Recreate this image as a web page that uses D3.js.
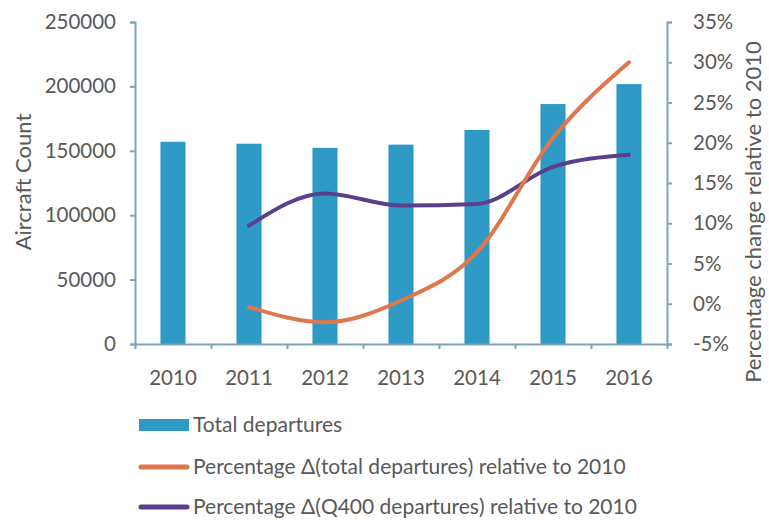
<!DOCTYPE html>
<html><head><meta charset="utf-8">
<script src="https://cdn.jsdelivr.net/npm/d3@7"></script>
<style>body{margin:0;background:#fff}svg{display:block}text{font-family:Lato,"Open Sans",sans-serif;fill:#595959}</style>
</head><body><svg id="c" width="769" height="520"></svg>
<script>
const years = ["2010","2011","2012","2013","2014","2015","2016"];
const totalDepartures = [157000, 155500, 152300, 154800, 166200, 186300, 201800];
const pctTotal = [null, -0.4, -2.3, 0.4, 6.4, 20.6, 30.0];
const pctQ400 = [null, 9.7, 13.7, 12.2, 12.4, 17.0, 18.5];
const leftTicks = [0, 50000, 100000, 150000, 200000, 250000];
const rightTicks = [-5, 0, 5, 10, 15, 20, 25, 30, 35];
const legendLabels = ["Total departures", "Percentage \u0394(total departures) relative to 2010", "Percentage \u0394(Q400 departures) relative to 2010"];

const colBar = "#2f9ac6", colOrange = "#e0774c", colPurple = "#5a3f8c", colAxis = "#7aa8b8";
const svg = d3.select("#c");
const L = 135, R = 667, T = 22, B = 344;

const x = d3.scaleBand().domain(years).range([L, R]).paddingInner(0.67).paddingOuter(0.335);
const xc = d3.scalePoint().domain(years).range([L, R]).padding(0.5);
const yL = d3.scaleLinear().domain([0, 250000]).range([B, T]);
const yR = d3.scaleLinear().domain([-5, 35]).range([B, T]);

// bars
svg.append("g").selectAll("rect").data(years).join("rect")
  .attr("x", d => x(d)).attr("width", x.bandwidth())
  .attr("y", (d,i) => yL(totalDepartures[i])).attr("height", (d,i) => B - yL(totalDepartures[i]))
  .attr("fill", colBar);

// axes
const axL = svg.append("g").attr("transform", `translate(${L},0)`)
  .call(d3.axisLeft(yL).tickValues(leftTicks).tickFormat(d3.format("d")).tickSize(5).tickPadding(14));
const axR = svg.append("g").attr("transform", `translate(${R},0)`)
  .call(d3.axisRight(yR).tickValues(rightTicks).tickFormat(d => d + "%").tickSize(5).tickPadding(21));
const bounds = years.slice(1).map(d => x(d) - x.step() * x.paddingInner() / 2);
const xAxisScale = d3.scaleLinear().domain([L, R]).range([L, R]);
const axB = svg.append("g").attr("transform", `translate(0,${B})`)
  .call(d3.axisBottom(xAxisScale).tickValues([L, ...bounds, R]).tickFormat("").tickSize(5).tickSizeOuter(0));
[axL, axR, axB].forEach(a => {
  a.selectAll("path,line").attr("stroke", colAxis).attr("stroke-width", 2);
  a.selectAll("text").style("font-size", "20.5px").attr("fill", "#595959");
});
axR.selectAll("text").attr("text-anchor","start");
svg.append("g").selectAll("text").data(years).join("text")
  .attr("x", d => xc(d)).attr("y", 385).attr("text-anchor", "middle")
  .style("font-size", "20.5px").text(d => d);

// lines
const line = (arr, sc) => d3.line().defined(d => d != null).curve(d3.curveMonotoneX)
  .x((d,i) => xc(years[i])).y(d => sc(d))(arr);
svg.append("path").attr("d", line(pctQ400, yR)).attr("fill","none").attr("stroke", colPurple).attr("stroke-width", 4).attr("stroke-linecap","round");
svg.append("path").attr("d", line(pctTotal, yR)).attr("fill","none").attr("stroke", colOrange).attr("stroke-width", 4).attr("stroke-linecap","round");

// axis titles
svg.append("text").attr("transform", `translate(31,${(B+T)/2 - 1}) rotate(-90)`).attr("text-anchor","middle")
  .style("font-size", "22px").text("Aircraft Count");
svg.append("text").attr("transform", `translate(761,${212}) rotate(-90)`).attr("text-anchor","middle")
  .style("font-size", "22px").text("Percentage change relative to 2010");

// legend
const lg = svg.append("g");
const rowsY = [425, 467, 507];
lg.append("rect").attr("x", 139).attr("y", rowsY[0]-6).attr("width", 50).attr("height", 12).attr("fill", colBar);
lg.append("line").attr("x1", 141).attr("x2", 187).attr("y1", rowsY[1]).attr("y2", rowsY[1]).attr("stroke", colOrange).attr("stroke-width", 5).attr("stroke-linecap","round");
lg.append("line").attr("x1", 141).attr("x2", 187).attr("y1", rowsY[2]).attr("y2", rowsY[2]).attr("stroke", colPurple).attr("stroke-width", 5).attr("stroke-linecap","round");
lg.selectAll("text").data(legendLabels).join("text")
  .attr("x", 193).attr("y", (d,i) => rowsY[i]).attr("dy", "0.35em")
  .style("font-size", "21px").text(d => d);
</script></body></html>
